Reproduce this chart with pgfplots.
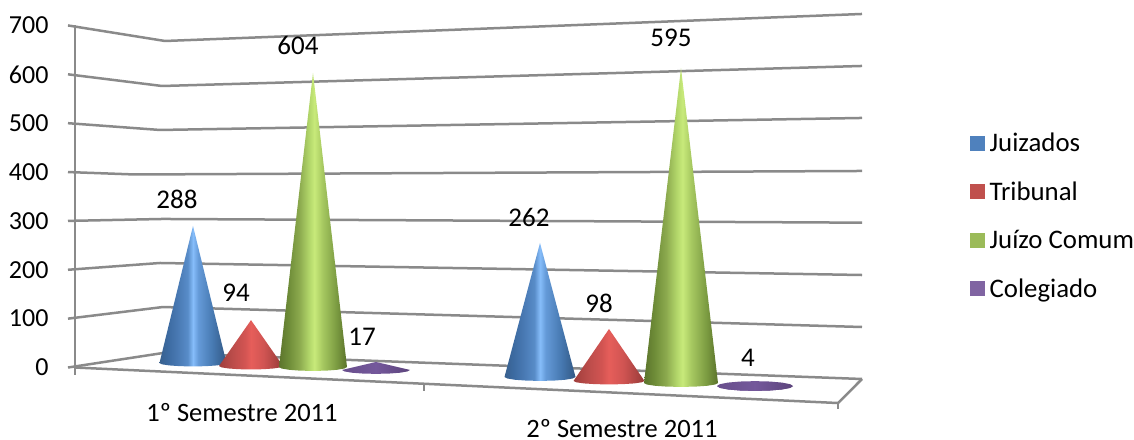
\documentclass[border=0pt]{standalone}
\usepackage{pgfplots}
\usepackage{pgfplotstable}
\usepackage{fontspec}
\pgfplotsset{compat=1.18}
\setmainfont{Carlito}

\definecolor{gridgray}{HTML}{8A8A8A}
\definecolor{serA}{HTML}{4F81BD}
\definecolor{serB}{HTML}{C0504D}
\definecolor{serC}{HTML}{9BBB59}
\definecolor{serD}{HTML}{8064A2}

% Lit-cone shadings: dark rims, bright band near the middle.
% The width of a shaded path covers the 25bp to 75bp stretch of its shading.
\definecolor{ba}{RGB}{56,96,142}\definecolor{bb}{RGB}{60,106,160}
\definecolor{bc}{RGB}{72,120,178}\definecolor{bd}{RGB}{88,140,200}
\definecolor{be}{RGB}{134,189,250}\definecolor{bf}{RGB}{100,154,216}
\definecolor{bg}{RGB}{70,120,176}\definecolor{bh}{RGB}{50,88,132}
\pgfdeclarehorizontalshading{coneblue}{100bp}{
  color(0bp)=(ba); color(25bp)=(ba); color(31bp)=(bb); color(38bp)=(bc);
  color(46bp)=(bd); color(50bp)=(be); color(54bp)=(bf); color(65bp)=(bg);
  color(75bp)=(bh); color(100bp)=(bh)}
\definecolor{ra}{RGB}{160,62,60}\definecolor{rb}{RGB}{186,76,74}
\definecolor{rc}{RGB}{210,84,82}\definecolor{rd}{RGB}{230,94,90}
\definecolor{re}{RGB}{208,84,82}\definecolor{rf}{RGB}{150,58,56}
\pgfdeclarehorizontalshading{conered}{100bp}{
  color(0bp)=(ra); color(25bp)=(ra); color(35bp)=(rb); color(45bp)=(rc);
  color(50bp)=(rd); color(60bp)=(re); color(75bp)=(rf); color(100bp)=(rf)}
\definecolor{ga}{RGB}{92,116,44}\definecolor{gb}{RGB}{110,140,56}
\definecolor{gc}{RGB}{140,170,78}\definecolor{gd}{RGB}{178,214,106}
\definecolor{ge}{RGB}{200,234,122}\definecolor{gf}{RGB}{166,200,96}
\definecolor{gg}{RGB}{124,156,66}\definecolor{gh}{RGB}{90,114,42}
\pgfdeclarehorizontalshading{conegreen}{100bp}{
  color(0bp)=(ga); color(25bp)=(ga); color(32bp)=(gb); color(40bp)=(gc);
  color(47bp)=(gd); color(51bp)=(ge); color(57bp)=(gf); color(67bp)=(gg);
  color(75bp)=(gh); color(100bp)=(gh)}
\definecolor{pa}{RGB}{104,78,140}\definecolor{pb}{RGB}{116,88,155}
\definecolor{pc}{RGB}{92,68,124}
\pgfdeclarehorizontalshading{conepurple}{100bp}{
  color(0bp)=(pa); color(25bp)=(pa); color(50bp)=(pb); color(75bp)=(pc);
  color(100bp)=(pc)}

% Outline of a cone on a unit base: front half of the ellipse, then the tip
\pgfplotstableread{
ux uy t
-1.000 0.000 0
-0.924 -0.383 0
-0.707 -0.707 0
-0.383 -0.924 0
0.000 -1.000 0
0.383 -0.924 0
0.707 -0.707 0
0.924 -0.383 0
1.000 0.000 0
0 0 1
}\coneoutline

% Full base ellipse, for a cone too low to cover its own base
\pgfplotstableread{
ux uy
-1.000 0.000
-0.924 -0.383
-0.707 -0.707
-0.383 -0.924
0.000 -1.000
0.383 -0.924
0.707 -0.707
0.924 -0.383
1.000 0.000
0.924 0.383
0.707 0.707
0.383 0.924
0.000 1.000
-0.383 0.924
-0.707 0.707
-0.924 0.383
}\baseoutline

% #1 shading, #2 centre x, #3 half width, #4 floor level, #5 half depth,
% #6 depth scale, #7 value
\newcommand{\cone}[7]{%
  \addplot[draw=none, shade, shading=#1, forget plot]
    table[x expr={#2+\thisrow{ux}*#3},
          y expr={#4+\thisrow{uy}*#5+\thisrow{t}*#7*#6}] {\coneoutline};}
\newcommand{\conebase}[5]{%
  \addplot[draw=none, shade, shading=#1, forget plot]
    table[x expr={#2+\thisrow{ux}*#3},
          y expr={#4+\thisrow{uy}*#5}] {\baseoutline};}

\begin{document}
\begin{tikzpicture}[x=1pt,y=1pt]
\useasboundingbox (0,0) rectangle (1134pt,439pt);
\begin{axis}[
  scale only axis, width=1134pt, height=439pt,
  xmin=0, xmax=1134, ymin=-146.3, ymax=752.1,
  axis line style={draw=none},
  xtick=\empty,
  ytick={0,100,...,700},
  ytick pos=left,
  major tick length=0pt,
  clip=false,
  y tick label style={/pgf/number format/assume math mode=true,
    font=\fontsize{26}{28}\selectfont, anchor=east, xshift=52pt},
  every axis plot/.append style={line join=round},
  legend image code/.code={\fill[draw=none,#1] (0pt,-7.5pt) rectangle (15pt,7.5pt);},
  legend style={at={(axis cs:970,480)}, anchor=north west, draw=none, fill=none,
    font=\fontsize{26.8}{28}\selectfont, inner sep=0pt, row sep=28.5pt,
    nodes={inner sep=0pt, anchor=west}},
  legend cell align=left,
]
% Left wall and back wall rulings, one polyline per gridline
\pgfplotsset{wall/.style={draw=gridgray, line width=2.5pt, forget plot}}
\addplot[wall] coordinates {(68,700) (165,668.2) (862,723.5)};
\addplot[wall] coordinates {(68,600) (162,576.1) (862,617.1)};
\addplot[wall] coordinates {(68,500) (160,486.1) (862,510.7)};
\addplot[wall] coordinates {(68,400) (135,395) (862,402.2)};
\addplot[wall] coordinates {(68,300) (163,304) (862,296.4)};
\addplot[wall] coordinates {(68,200) (160,213.9) (862,189.3)};
\addplot[wall] coordinates {(68,100) (163,123.8) (862,82.9)};
\addplot[wall] coordinates {(68,0) (163,29.7) (862,-23.5)};
% Vertical axis, floor edge and its tick stubs
\addplot[wall] coordinates {(75,700) (75,-15)};
\addplot[wall] coordinates {(75,0) (838,-72.7) (862,-23.5)};
\addplot[wall] coordinates {(424,-33) (424,-48)};
\addplot[wall] coordinates {(838,-72.7) (838,-85)};

% First semester
\cone{coneblue}{193}{33.5}{9.2}{7}{0.974}{288}
\cone{conered}{251}{32}{3}{7}{1.0}{94}
\cone{conegreen}{313}{34}{1}{8}{0.997}{604}
\cone{conepurple}{376}{34}{-5}{8}{0.96}{17}
% Second semester
\cone{coneblue}{540}{35.5}{-19.4}{8}{1.047}{262}
\cone{conered}{609}{35.5}{-27.6}{7}{1.086}{98}
\cone{conegreen}{681}{37}{-31.7}{8}{1.083}{595}
\conebase{conepurple}{755}{38}{-37.9}{10}
\cone{conepurple}{755}{38}{-37.9}{10}{1.05}{4}

% Value labels
\tikzset{lab/.style={inner sep=0pt, font=\fontsize{27}{28}\selectfont}}
\node[lab] at (axis cs:177,344.9) {288};
\node[lab] at (axis cs:236,152.5) {94};
\node[lab] at (axis cs:298,660) {604};
\node[lab] at (axis cs:362,62.4) {17};
\node[lab] at (axis cs:529,308) {262};
\node[lab] at (axis cs:599,132) {98};
\node[lab] at (axis cs:671,674.4) {595};
\node[lab] at (axis cs:748,19.4) {4};
% Category labels
\node[lab, font=\fontsize{26.5}{28}\selectfont] at (axis cs:242,-93) {1º Semestre 2011};
\node[lab, font=\fontsize{26.5}{28}\selectfont] at (axis cs:622,-124) {2º Semestre 2011};

\addlegendimage{fill=serA}\addlegendentry{\,Juizados}
\addlegendimage{fill=serB}\addlegendentry{\,Tribunal}
\addlegendimage{fill=serC}\addlegendentry{\,Juízo Comum}
\addlegendimage{fill=serD}\addlegendentry{\,Colegiado}
\end{axis}
\end{tikzpicture}
\end{document}
